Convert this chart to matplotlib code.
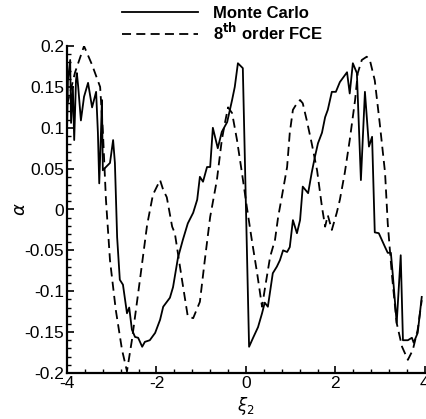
# -*- coding: utf-8 -*-
"""alpha vs xi_2 : Monte Carlo vs 8th order FCE (Tecplot 스타일 재현)."""
import matplotlib
matplotlib.use('Agg')
import matplotlib.pyplot as plt
from matplotlib.ticker import MultipleLocator, FuncFormatter

plt.rcParams['font.family'] = ['Liberation Sans', 'DejaVu Sans']
plt.rcParams['lines.scale_dashes'] = False

# Monte Carlo (실선)
mc_x = [-4.00, -3.98, -3.93, -3.91, -3.87, -3.84, -3.80, -3.78, -3.75, -3.69,
        -3.62, -3.53, -3.44, -3.35, -3.31, -3.28, -3.24, -3.22, -3.20, -3.13,
        -3.04, -2.97, -2.93, -2.88, -2.82, -2.75, -2.66, -2.61, -2.55, -2.48,
        -2.41, -2.32, -2.26, -2.15, -2.03, -1.92, -1.85, -1.70, -1.63, -1.52,
        -1.41, -1.30, -1.18, -1.09, -1.03, -0.96, -0.87, -0.80, -0.74, -0.63,
        -0.54, -0.42, -0.31, -0.25, -0.18, -0.07, 0.07, 0.16, 0.27, 0.36,
        0.42, 0.49, 0.60, 0.69, 0.76, 0.83, 0.92, 0.98, 1.05, 1.14,
        1.21, 1.27, 1.39, 1.47, 1.54, 1.61, 1.70, 1.77, 1.83, 1.92,
        2.01, 2.10, 2.26, 2.32, 2.39, 2.48, 2.57, 2.66, 2.75, 2.82,
        2.88, 2.97, 3.11, 3.17, 3.24, 3.28, 3.37, 3.46, 3.51, 3.62,
        3.71, 3.75, 3.84, 3.93]
mc_y = [0.097, 0.158, 0.183, 0.106, 0.150, 0.085, 0.158, 0.167, 0.150, 0.109,
        0.138, 0.155, 0.125, 0.144, 0.094, 0.032, 0.097, 0.134, 0.048, 0.052,
        0.057, 0.085, 0.057, -0.034, -0.086, -0.092, -0.127, -0.120, -0.147, -0.156,
        -0.157, -0.168, -0.162, -0.160, -0.151, -0.135, -0.119, -0.108, -0.095, -0.059,
        -0.037, -0.017, -0.004, 0.012, 0.040, 0.034, 0.052, 0.052, 0.100, 0.075,
        0.095, 0.107, 0.134, 0.150, 0.179, 0.173, -0.168, -0.157, -0.144, -0.127,
        -0.114, -0.119, -0.078, -0.070, -0.062, -0.050, -0.052, -0.046, -0.013, -0.029,
        -0.013, 0.028, 0.020, 0.045, 0.064, 0.081, 0.094, 0.113, 0.122, 0.144,
        0.144, 0.156, 0.168, 0.142, 0.179, 0.167, 0.036, 0.144, 0.077, 0.089,
        -0.028, -0.029, -0.046, -0.053, -0.053, -0.078, -0.139, -0.056, -0.160, -0.160,
        -0.157, -0.163, -0.151, -0.107]

# 8th order FCE (점선)
fce_x = [-4.00, -3.82, -3.62, -3.44, -3.26, -3.20, -3.13, -3.04, -2.91, -2.77,
         -2.66, -2.55, -2.37, -2.21, -2.08, -1.92, -1.85, -1.77, -1.65, -1.59,
         -1.43, -1.30, -1.18, -1.03, -0.92, -0.80, -0.65, -0.54, -0.47, -0.40,
         -0.31, -0.20, -0.09, 0.02, 0.13, 0.25, 0.36, 0.42, 0.54, 0.65,
         0.72, 0.80, 0.92, 0.98, 1.05, 1.14, 1.21, 1.27, 1.36, 1.47,
         1.59, 1.70, 1.77, 1.83, 1.92, 2.03, 2.10, 2.21, 2.32, 2.44,
         2.50, 2.59, 2.70, 2.77, 2.88, 2.99, 3.11, 3.17, 3.26, 3.37,
         3.49, 3.62, 3.73, 3.84, 3.93]
fce_y = [0.128, 0.168, 0.200, 0.177, 0.150, 0.097, 0.012, -0.062, -0.123, -0.172,
         -0.198, -0.160, -0.086, -0.019, 0.018, 0.036, 0.024, 0.015, -0.021, -0.029,
         -0.086, -0.131, -0.133, -0.113, -0.062, -0.009, 0.036, 0.085, 0.106, 0.125,
         0.118, 0.085, 0.045, 0.003, -0.037, -0.078, -0.119, -0.098, -0.058, -0.037,
         -0.009, 0.015, 0.052, 0.094, 0.122, 0.130, 0.134, 0.130, 0.109, 0.081,
         0.048, 0.003, -0.021, -0.007, -0.025, -0.004, 0.012, 0.045, 0.085, 0.134,
         0.167, 0.183, 0.187, 0.183, 0.158, 0.106, 0.045, -0.017, -0.078, -0.139,
         -0.168, -0.184, -0.172, -0.147, -0.111]

fig = plt.figure(figsize=(4.27, 4.19), dpi=100)
ax = fig.add_axes([0.157, 0.110, 0.838, 0.780])

ax.plot(mc_x, mc_y, color='black', lw=1.3, label='Monte Carlo')
ax.plot(fce_x, fce_y, color='black', lw=1.3, dashes=(6.5, 3.8),
        label=r'8$^{\mathbf{th}}$ order FCE')

ax.set_xlim(-4, 4); ax.set_ylim(-0.2, 0.2)
ax.xaxis.set_major_locator(MultipleLocator(2)); ax.xaxis.set_minor_locator(MultipleLocator(0.4))
ax.yaxis.set_major_locator(MultipleLocator(0.05)); ax.yaxis.set_minor_locator(MultipleLocator(0.01))
fmt = FuncFormatter(lambda v, p: f'{v:g}' if abs(v) > 1e-9 else '0')
ax.xaxis.set_major_formatter(fmt); ax.yaxis.set_major_formatter(fmt)
for s in ('top', 'right'):
    ax.spines[s].set_visible(False)
for s in ('left', 'bottom'):
    ax.spines[s].set_linewidth(1.6)
ax.tick_params(which='major', direction='in', length=5, width=1.2, labelsize=12.5, pad=2)
ax.tick_params(which='minor', direction='in', length=3, width=1.0)

ax.set_xlabel(r'$\xi_2$', fontsize=12, labelpad=3)
ax.set_ylabel(r'$\alpha$', fontsize=13, labelpad=-3)

fig.legend(loc='upper left', bbox_to_anchor=(0.285, 0.985), frameon=False,
           handlelength=4.6, handletextpad=0.9, labelspacing=0.0, borderpad=0.0,
           borderaxespad=0.0, prop={'weight': 'bold', 'size': 12})

fig.savefig('out.png', dpi=100)
